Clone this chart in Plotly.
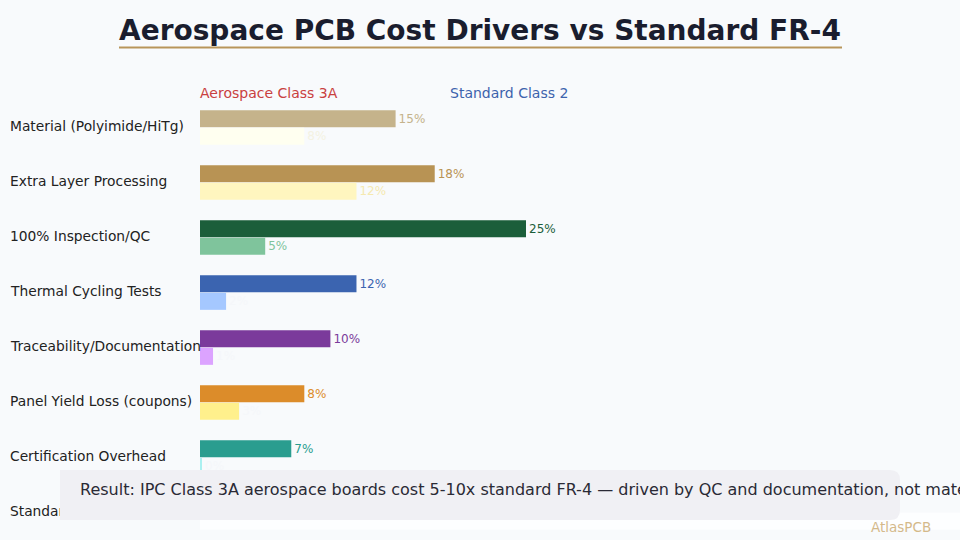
import plotly.graph_objects as go

categories = [
    "Material (Polyimide/HiTg)",
    "Extra Layer Processing",
    "100% Inspection/QC",
    "Thermal Cycling Tests",
    "Traceability/Documentation",
    "Panel Yield Loss (coupons)",
    "Certification Overhead",
    "Standard Fabrication",
]
aero_values = [15, 18, 25, 12, 10, 8, 7, 5]
std_values = [8, 12, 5, 2, 1, 3, 0.1, 69]
aero_colors = ["#c5b38b", "#b89354", "#1b5e3a", "#3b64b0", "#7b3a9b", "#dc8c2a", "#2a9d8f", "#8a8f9c"]
std_colors = ["#fffff0", "#fff6bf", "#7fc49c", "#a5c8ff", "#dca3ff", "#fff08c", "#aaf0f0", "#fdfeff"]
std_text_colors = ["#f4f2e2", "#f5e9b0", "#7fc49c", "#f5f7fa", "#f5f7fa", "#f5f7fa", "#f5f7fa", "#f5f7fa"]

W, H = 960, 540
BG = "#f8fafc"
BOX = "#f0f0f4"

fig = go.Figure()
fig.add_trace(go.Bar(
    y=categories, x=aero_values, orientation="h", name="Aerospace Class 3A",
    marker=dict(color=aero_colors, line=dict(width=0)),
    text=[f"{v:g}%" for v in aero_values], textposition="outside",
    textfont=dict(color=aero_colors, size=12, family="DejaVu Sans"),
    cliponaxis=True, hoverinfo="skip",
))
fig.add_trace(go.Bar(
    y=categories, x=std_values, orientation="h", name="Standard Class 2",
    marker=dict(color=std_colors, line=dict(width=0)),
    text=[f"{round(v):g}%" for v in std_values], textposition="outside",
    textfont=dict(color=std_text_colors, size=12, family="DejaVu Sans"),
    cliponaxis=True, hoverinfo="skip",
))

ann = []
for c in categories:
    ann.append(dict(x=8 / W, y=c, xref="paper", yref="y", text=c, showarrow=False,
                    xanchor="left", yanchor="middle", yshift=2,
                    font=dict(size=13.8, color="#222222", family="DejaVu Sans")))

ann += [
    # piece of the result box that sits above the last category label, as in the reference
    dict(x=60 / W, y=1 - 495 / H, xref="paper", yref="paper", text=" ",
         showarrow=False, xanchor="left", yanchor="middle", width=160, height=50,
         bgcolor=BOX, borderpad=0, borderwidth=0),
    dict(x=480 / W, y=1 - 31 / H, xref="paper", yref="paper",
         text="<b>Aerospace PCB Cost Drivers vs Standard FR-4</b>", showarrow=False,
         xanchor="center", yanchor="middle",
         font=dict(size=28, color="#1a1d2e", family="DejaVu Sans")),
    dict(x=198 / W, y=1 - 93 / H, xref="paper", yref="paper", text="Aerospace Class 3A",
         showarrow=False, xanchor="left", yanchor="middle",
         font=dict(size=14, color="#c94040", family="DejaVu Sans")),
    dict(x=448 / W, y=1 - 93 / H, xref="paper", yref="paper", text="Standard Class 2",
         showarrow=False, xanchor="left", yanchor="middle",
         font=dict(size=14, color="#3d63ad", family="DejaVu Sans")),
    dict(x=78 / W, y=1 - 489 / H, xref="paper", yref="paper",
         text="Result: IPC Class 3A aerospace boards cost 5-10x standard FR-4 \u2014 driven by QC and documentation, not material",
         showarrow=False, xanchor="left", yanchor="middle",
         font=dict(size=16, color="#2a2a35", family="DejaVu Sans")),
    dict(x=933 / W, y=1 - 527 / H, xref="paper", yref="paper", text="AtlasPCB",
         showarrow=False, xanchor="right", yanchor="middle",
         font=dict(size=13.5, color="#d4b98a", family="DejaVu Sans")),
]


def rounded_path(x0, y0, x1, y1, r):
    def p(x, y):
        return f"{x / W:.5f},{1 - y / H:.5f}"
    return (f"M {p(x0 + r, y0)} L {p(x1 - r, y0)} Q {p(x1, y0)} {p(x1, y0 + r)} "
            f"L {p(x1, y1 - r)} Q {p(x1, y1)} {p(x1 - r, y1)} "
            f"L {p(x0 + r, y1)} Q {p(x0, y1)} {p(x0, y1 - r)} "
            f"L {p(x0, y0 + r)} Q {p(x0, y0)} {p(x0 + r, y0)} Z")


shapes = [
    dict(type="line", xref="paper", yref="paper", x0=119 / W, x1=842 / W,
         y0=1 - 47.5 / H, y1=1 - 47.5 / H, line=dict(color="#b8955a", width=2)),
    dict(type="path", xref="paper", yref="paper", path=rounded_path(60, 470, 900, 520, 10),
         fillcolor=BOX, line=dict(width=0), layer="above"),
]

fig.update_layout(
    width=W, height=H,
    margin=dict(l=0, r=0, t=0, b=0),
    paper_bgcolor=BG, plot_bgcolor=BG,
    barmode="group", bargap=0.36, bargroupgap=0.03,
    showlegend=False,
    xaxis=dict(domain=[200 / W, 1], range=[0, 760 / 13.04], showgrid=False,
               zeroline=False, showticklabels=False, ticks="", fixedrange=True),
    yaxis=dict(domain=[0, 440 / H], autorange="reversed", showgrid=False,
               zeroline=False, showticklabels=False, ticks="", fixedrange=True),
    annotations=ann, shapes=shapes,
    font=dict(family="DejaVu Sans"),
)

fig.write_html("out.html")
